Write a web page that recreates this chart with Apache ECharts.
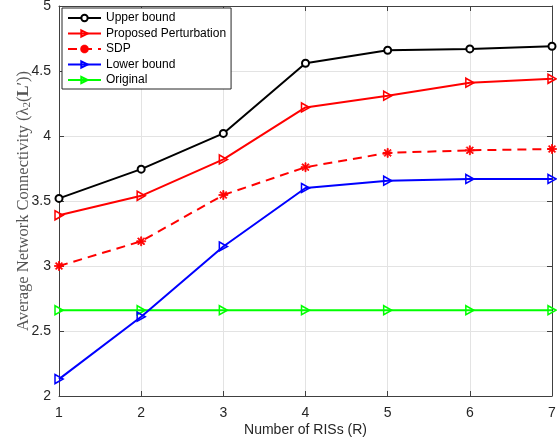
<!DOCTYPE html>
<html>
<head>
<meta charset="utf-8">
<script src="https://cdn.jsdelivr.net/npm/echarts@6/dist/echarts.min.js"></script>
<style>
  html, body { margin: 0; padding: 0; background: #fff; }
  #main { width: 557px; height: 440px; }
</style>
</head>
<body>
<div id="main"></div>
<script>
// values
var risCount = [1, 2, 3, 4, 5, 6, 7];
var upperBound = [3.52, 3.745, 4.02, 4.56, 4.66, 4.67, 4.69];
var proposed = [3.39, 3.54, 3.82, 4.22, 4.31, 4.41, 4.44];
var sdp = [3.00, 3.19, 3.546, 3.76, 3.87, 3.89, 3.90];
var lowerBound = [2.13, 2.61, 3.15, 3.60, 3.656, 3.67, 3.67];
var original = [2.66, 2.66, 2.66, 2.66, 2.66, 2.66, 2.66];

function pairs(ys) {
    return risCount.map(function (x, i) { return [x, ys[i]]; });
}

var triRight = 'path://M0,0 L10,5 L0,10 Z';
var asterisk = 'path://M4.4,0 L5.6,0 L5.6,10 L4.4,10 Z M0,4.4 L10,4.4 L10,5.6 L0,5.6 Z ' +
    'M1.0,1.9 L1.9,1.0 L9.0,8.1 L8.1,9.0 Z M8.1,1.0 L9.0,1.9 L1.9,9.0 L1.0,8.1 Z';

var sans = 'Liberation Sans, Arial, Helvetica, sans-serif';
var serif = 'Liberation Serif, DejaVu Serif, serif';
var frame = '#404040';

function hollow(c) {
    return { color: 'rgba(255,255,255,0)', borderColor: c, borderWidth: 1.6 };
}

var myChart = echarts.init(document.getElementById('main'));
var option = {
    animation: false,
    backgroundColor: '#fff',
    grid: { left: 59, right: 5, top: 6, bottom: 44, show: false, containLabel: false, outerBoundsMode: 'none' },
    legend: {
        orient: 'vertical',
        left: 62,
        top: 8,
        backgroundColor: '#fff',
        borderColor: '#262626',
        borderWidth: 1,
        borderRadius: 0,
        padding: [4, 5, 3, 5],
        itemGap: 3.5,
        itemWidth: 33,
        itemHeight: 8,
        textStyle: { fontFamily: sans, fontSize: 12, color: '#000', lineHeight: 12 },
        data: ['Upper bound', 'Proposed Perturbation', 'SDP', 'Lower bound', 'Original']
    },
    xAxis: [{
        type: 'value',
        min: 1, max: 7, interval: 1,
        name: 'Number of RISs (R)',
        nameLocation: 'middle',
        nameGap: 27,
        nameMoveOverlap: false,
        nameTextStyle: { fontFamily: sans, fontSize: 14, color: '#262626' },
        axisLine: { show: true, lineStyle: { color: frame, width: 1 } },
        axisTick: { show: true, inside: true, length: 5, lineStyle: { color: frame } },
        axisLabel: { fontFamily: sans, fontSize: 14, color: '#262626', margin: 10 },
        splitLine: { show: true, lineStyle: { color: '#e3e3e3', width: 1 } }
    }, {
        type: 'value',
        position: 'top',
        min: 1, max: 7, interval: 1,
        axisLine: { show: true, lineStyle: { color: frame, width: 1 } },
        axisTick: { show: true, inside: true, length: 5, lineStyle: { color: frame } },
        axisLabel: { show: false },
        splitLine: { show: false }
    }],
    yAxis: [{
        type: 'value',
        min: 2, max: 5, interval: 0.5,
        name: '{t|Average Network Connectivity (λ}{s|2}{t|(}{b|L}{t|′))}',
        nameLocation: 'middle',
        nameGap: 26,
        nameMoveOverlap: false,
        nameRotate: 90,
        nameTextStyle: {
            rich: {
                t: { fontFamily: serif, fontSize: 16.5, color: '#555' },
                s: { fontFamily: serif, fontSize: 11, color: '#555', padding: [7, 0, 0, 0] },
                b: { fontFamily: serif, fontSize: 16.5, fontWeight: 'bold', color: '#555' }
            }
        },
        axisLine: { show: true, lineStyle: { color: frame, width: 1 } },
        axisTick: { show: true, inside: true, length: 5, lineStyle: { color: frame } },
        axisLabel: { fontFamily: sans, fontSize: 14, color: '#262626', margin: 8 },
        splitLine: { show: true, lineStyle: { color: '#e3e3e3', width: 1 } }
    }, {
        type: 'value',
        position: 'right',
        min: 2, max: 5, interval: 0.5,
        axisLine: { show: true, lineStyle: { color: frame, width: 1 } },
        axisTick: { show: true, inside: true, length: 5, lineStyle: { color: frame } },
        axisLabel: { show: false },
        splitLine: { show: false }
    }],
    series: [
        {
            name: 'Original', type: 'line', data: pairs(original), z: 2,
            color: '#00ff00',
            symbol: triRight, symbolSize: [8, 9],
            lineStyle: { color: '#00ff00', width: 2 },
            itemStyle: hollow('#00ff00')
        },
        {
            name: 'Lower bound', type: 'line', data: pairs(lowerBound), z: 3,
            color: '#0000ff',
            symbol: triRight, symbolSize: [8, 9],
            lineStyle: { color: '#0000ff', width: 2 },
            itemStyle: hollow('#0000ff')
        },
        {
            name: 'SDP', type: 'line', data: pairs(sdp), z: 4,
            color: '#ff0000',
            symbol: asterisk, symbolSize: 9,
            lineStyle: { color: '#ff0000', width: 2, type: [9, 6] },
            itemStyle: { color: '#ff0000', borderColor: '#ff0000', borderWidth: 0.8 }
        },
        {
            name: 'Proposed Perturbation', type: 'line', data: pairs(proposed), z: 5,
            color: '#ff0000',
            symbol: triRight, symbolSize: [8, 9],
            lineStyle: { color: '#ff0000', width: 2 },
            itemStyle: hollow('#ff0000')
        },
        {
            name: 'Upper bound', type: 'line', data: pairs(upperBound), z: 6,
            color: '#000000',
            symbol: 'emptyCircle', symbolSize: 7,
            lineStyle: { color: '#000000', width: 2 },
            itemStyle: { color: '#000', borderColor: '#000', borderWidth: 1.5 }
        }
    ]
};
myChart.setOption(option);
</script>
</body>
</html>
